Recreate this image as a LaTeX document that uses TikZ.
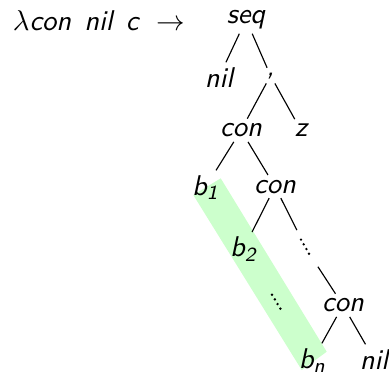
\documentclass[tikz,border=0pt]{standalone}
\usepackage{tikz}
\definecolor{bandgreen}{HTML}{CCFFCC}

\begin{document}
\begin{tikzpicture}[
  x=.35pt,y=-.35pt,
  line cap=butt,line join=miter,
  font=\sffamily\itshape,
  term/.style={anchor=base,inner sep=1.5pt},
  edge/.style={draw=black,line width=.4pt},
  gap/.style={circle,minimum size=14.4pt,inner sep=0pt},
  dotrow/.style={line width=.95pt,line cap=round,dash pattern=on 0pt off 1.9pt}
]
\useasboundingbox (0,0) rectangle (389,372);
\fill[bandgreen] (193.3,195) -- (220.7,178.3) -- (326.7,351.7) -- (301.7,370) -- cycle;

\node[term,anchor=base west] (lhs) at (8,30.7)
  {$\lambda$con\hspace{4.6pt}nil\hspace{4.6pt}c\hspace{6.4pt}$\rightarrow$};

\node[term] (seq) at (246,23.3) {seq};
\node[term] (nil1) at (219,87) {nil};
\node[term] (pair) at (270.5,75) {,};
\node[term] (con1) at (241,136.7) {con};
\node[term] (z) at (301,136.7) {z};
\node[term] (b1) at (205.5,195) {b\textsubscript{1}};
\node[term] (con2) at (275,193) {con};
\node[term] (b2) at (243.5,256.7) {b\textsubscript{2}};
\node[gap] (rdots) at (306.4,249) {};
\node[term] (con3) at (343,311.7) {con};
\node[term] (bn) at (312.5,368) {b\textsubscript{n}};
\node[term] (nil2) at (374,369) {nil};

\draw[dotrow] ([shift={(-5.4,-9.4)}]rdots.center) -- ([shift={(5.3,9.3)}]rdots.center);
\draw[dotrow] (272,294.7) -- (283,313);

\draw[edge] (seq) -- (nil1);
\draw[edge] (seq) -- (pair);
\draw[edge] (pair) -- (con1);
\draw[edge] (pair) -- (z);
\draw[edge] (con1) -- (b1);
\draw[edge] (con1) -- (con2);
\draw[edge] (con2) -- (b2);
\draw[edge] (con2) -- (rdots);
\draw[edge] (rdots) -- (con3);
\draw[edge] (con3) -- (bn);
\draw[edge] (con3) -- (nil2);
\end{tikzpicture}
\end{document}
